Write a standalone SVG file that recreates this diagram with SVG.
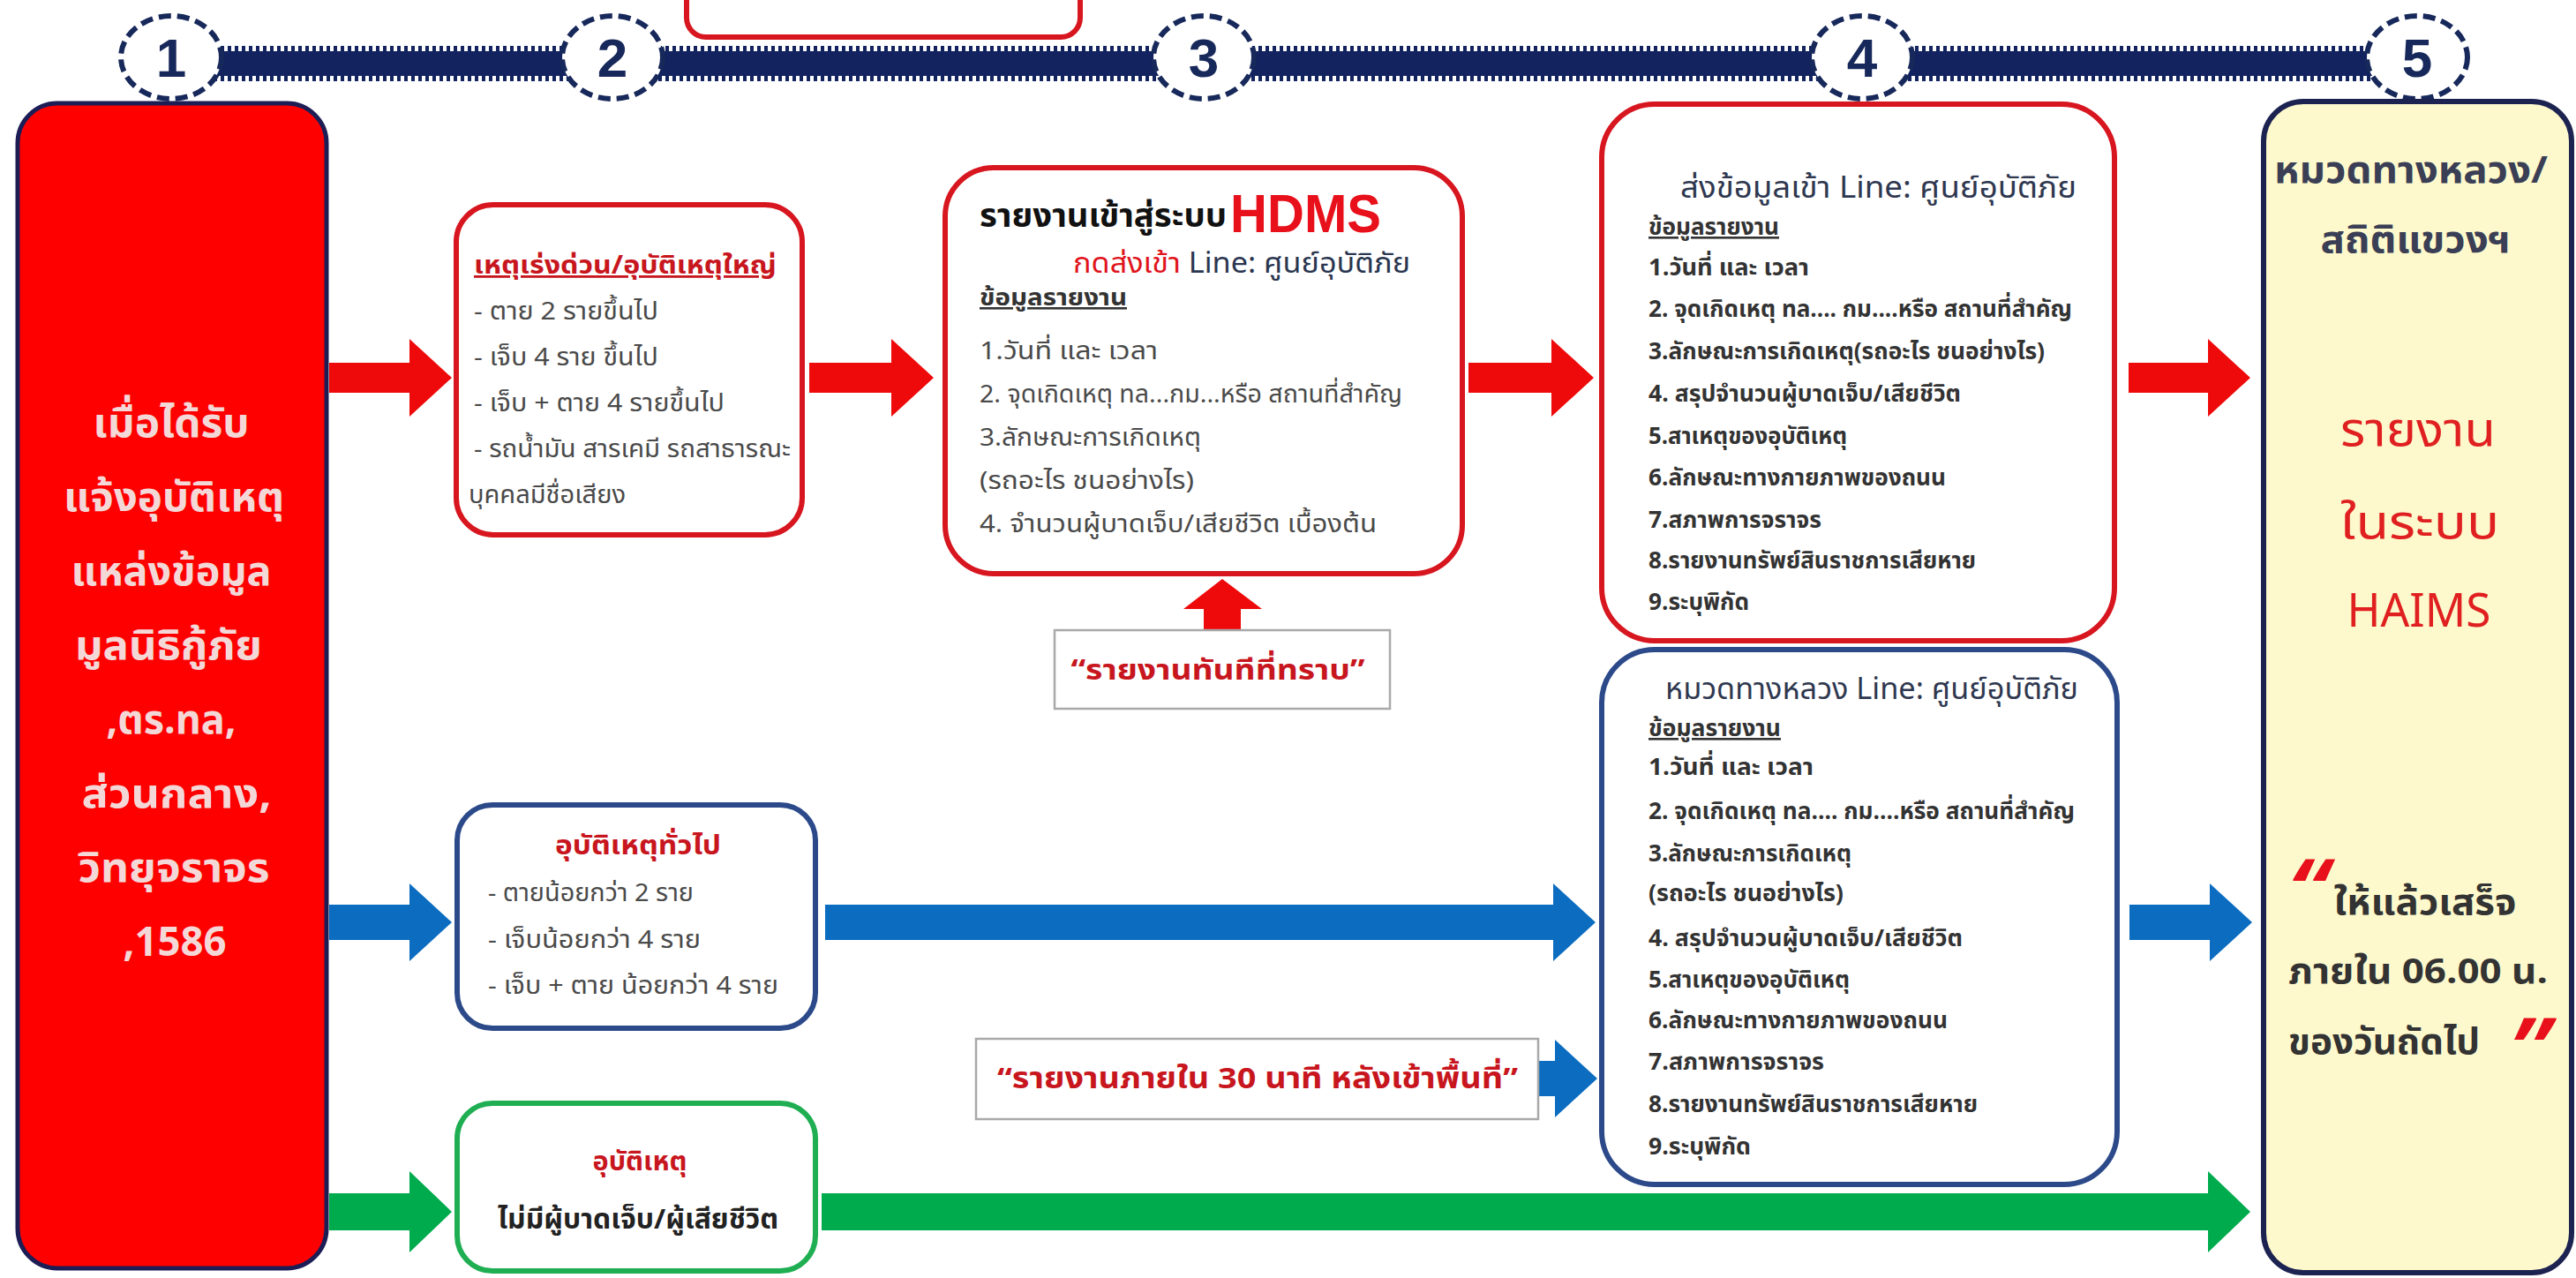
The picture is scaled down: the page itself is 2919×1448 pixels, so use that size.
<svg xmlns="http://www.w3.org/2000/svg" width="2919" height="1448" viewBox="0 0 2919 1448">
<style>
text{font-family:'Noto Sans Thai','Noto Sans','DejaVu Sans',sans-serif;}
.lat{font-family:'Liberation Sans',Arial,sans-serif;font-weight:bold;}
.rbox{fill:#ffffff;stroke:#d7161f;stroke-width:6;}
.bbox{fill:#ffffff;stroke:#2c4a8a;stroke-width:6;}
.gbox{fill:#ffffff;stroke:#1fae52;stroke-width:6;}
.note{fill:#ffffff;stroke:#a9a9a9;stroke-width:2.5;}
.ra{fill:#ee0a0a;}
.ba{fill:#0b6cc0;}
.ga{fill:#00ab4e;}
.circ{fill:#ffffff;stroke:#17285a;stroke-width:6;stroke-dasharray:14 7;}
.num{font-family:'Liberation Sans',Arial,sans-serif;font-weight:bold;font-size:62px;fill:#17285a;text-anchor:middle;}
.big{font-size:46px;fill:#f4d8d8;text-anchor:middle;font-weight:bold;}
.ln{font-size:28px;fill:#4a4a4a;}
.lnb{font-size:27px;fill:#333333;font-weight:bold;}
.hd{font-size:26px;fill:#333333;font-weight:bold;text-decoration:underline;}
.rt{fill:#c8161e;font-weight:bold;}
.ttl{font-size:34px;fill:#2f3850;}
.y5{font-size:40px;fill:#333;font-weight:bold;}
.red5{font-size:54px;fill:#e02020;text-anchor:middle;}
</style>

<g id="timeline">
  <line x1="194" y1="72" x2="2739" y2="72" stroke="#12235f" stroke-width="40" stroke-dasharray="4 4"/>
  <rect x="194" y="58" width="2545" height="28" fill="#12235f"/>
</g>
<g id="top-box"><rect x="778" y="-40" width="446" height="82" rx="22" class="rbox"/></g>
<g id="step1"><ellipse cx="194" cy="65" rx="57" ry="47" class="circ"/><text x="194" y="87" class="num">1</text></g>
<g id="step2"><ellipse cx="694" cy="65" rx="57" ry="47" class="circ"/><text x="694" y="87" class="num">2</text></g>
<g id="step3"><ellipse cx="1364" cy="65" rx="57" ry="47" class="circ"/><text x="1364" y="87" class="num">3</text></g>
<g id="step4"><ellipse cx="2110" cy="65" rx="57" ry="47" class="circ"/><text x="2110" y="87" class="num">4</text></g>
<g id="step5"><ellipse cx="2739" cy="65" rx="57" ry="47" class="circ"/><text x="2739" y="87" class="num">5</text></g>

<g id="connectors">
  <polygon class="ra" points="373,411 464,411 464,384 512,428 464,472 464,445 373,445"/>
  <polygon class="ra" points="917,411 1010,411 1010,384 1058,428 1010,472 1010,445 917,445"/>
  <polygon class="ra" points="1664,411 1758,411 1758,384 1806,428 1758,472 1758,445 1664,445"/>
  <polygon class="ra" points="2412,411 2502,411 2502,384 2550,428 2502,472 2502,445 2412,445"/>
  <polygon class="ra" points="1341,690 1385,656 1430,690 1406,690 1406,715 1364,715 1364,690"/>
  <polygon class="ba" points="373,1025 464,1025 464,1001 512,1045 464,1089 464,1065 373,1065"/>
  <polygon class="ba" points="935,1025 1760,1025 1760,1001 1808,1045 1760,1089 1760,1065 935,1065"/>
  <polygon class="ba" points="2413,1025 2504,1025 2504,1001 2552,1045 2504,1089 2504,1065 2413,1065"/>
  <polygon class="ba" points="1744,1202 1762,1202 1762,1178 1810,1222 1762,1266 1762,1242 1744,1242"/>
  <polygon class="ga" points="373,1352 464,1352 464,1327 512,1373 464,1419 464,1394 373,1394"/>
  <polygon class="ga" points="931,1352 2502,1352 2502,1327 2550,1373 2502,1419 2502,1394 931,1394"/>
</g>

<g id="source">
  <rect x="20" y="117" width="350" height="1320" rx="45" fill="#ff0000" stroke="#1d1d55" stroke-width="5"/>
  <text x="194" y="495" class="big" textLength="177" lengthAdjust="spacingAndGlyphs">เมื่อได้รับ</text>
  <text x="197" y="579" class="big" textLength="250" lengthAdjust="spacingAndGlyphs">แจ้งอุบัติเหตุ</text>
  <text x="194" y="663" class="big" textLength="227" lengthAdjust="spacingAndGlyphs">แหล่งข้อมูล</text>
  <text x="191" y="747" class="big" textLength="212" lengthAdjust="spacingAndGlyphs">มูลนิธิกู้ภัย</text>
  <text x="194" y="831" class="big" textLength="147" lengthAdjust="spacingAndGlyphs">,ตร.ทล,</text>
  <text x="200" y="915" class="big" textLength="215" lengthAdjust="spacingAndGlyphs">ส่วนกลาง,</text>
  <text x="197" y="999" class="big" textLength="217" lengthAdjust="spacingAndGlyphs">วิทยุจราจร</text>
  <text x="198" y="1083" class="big" textLength="117" lengthAdjust="spacingAndGlyphs">,1586</text>
</g>

<g id="urgent">
  <rect x="517" y="232" width="392" height="374" rx="42" class="rbox"/>
  <text x="537" y="310" font-size="28" class="rt" text-decoration="underline" textLength="343" lengthAdjust="spacingAndGlyphs">เหตุเร่งด่วน/อุบัติเหตุใหญ่</text>
  <text x="537" y="362" class="ln" textLength="209" lengthAdjust="spacingAndGlyphs">- ตาย 2 รายขึ้นไป</text>
  <text x="537" y="414" class="ln" textLength="209" lengthAdjust="spacingAndGlyphs">- เจ็บ 4 ราย ขึ้นไป</text>
  <text x="537" y="466" class="ln" textLength="284" lengthAdjust="spacingAndGlyphs">- เจ็บ + ตาย 4 รายขึ้นไป</text>
  <text x="537" y="518" class="ln" textLength="359" lengthAdjust="spacingAndGlyphs">- รถน้ำมัน สารเคมี รถสาธารณะ</text>
  <text x="531" y="570" class="ln" textLength="178" lengthAdjust="spacingAndGlyphs">บุคคลมีชื่อเสียง</text>
</g>

<g id="general">
  <rect x="518" y="912" width="406" height="253" rx="40" class="bbox"/>
  <text x="723" y="968" font-size="30" class="rt" text-anchor="middle" textLength="188" lengthAdjust="spacingAndGlyphs">อุบัติเหตุทั่วไป</text>
  <text x="553" y="1021" class="ln" textLength="233" lengthAdjust="spacingAndGlyphs">- ตายน้อยกว่า 2 ราย</text>
  <text x="553" y="1074" class="ln" textLength="241" lengthAdjust="spacingAndGlyphs">- เจ็บน้อยกว่า  4 ราย</text>
  <text x="553" y="1126" class="ln" textLength="329" lengthAdjust="spacingAndGlyphs">- เจ็บ + ตาย น้อยกว่า 4 ราย</text>
</g>

<g id="noinjury">
  <rect x="518" y="1250" width="406" height="190" rx="40" class="gbox"/>
  <text x="725" y="1326" font-size="30" class="rt" text-anchor="middle" textLength="107" lengthAdjust="spacingAndGlyphs">อุบัติเหตุ</text>
  <text x="723" y="1392" font-size="31" fill="#222" font-weight="bold" text-anchor="middle" textLength="318" lengthAdjust="spacingAndGlyphs">ไม่มีผู้บาดเจ็บ/ผู้เสียชีวิต</text>
</g>

<g id="hdms">
  <rect x="1071" y="190" width="586" height="460" rx="55" class="rbox"/>
  <text x="1110" y="257" font-size="38" font-weight="bold" fill="#111" textLength="280" lengthAdjust="spacingAndGlyphs">รายงานเข้าสู่ระบบ</text>
  <text x="1394" y="263" font-size="62" class="lat" fill="#e8101a" textLength="171" lengthAdjust="spacingAndGlyphs">HDMS</text>
  <text x="1216" y="309" font-size="32" textLength="382" lengthAdjust="spacingAndGlyphs"><tspan fill="#e0141c">กดส่งเข้า</tspan><tspan fill="#2a3650"> Line: ศูนย์อุบัติภัย</tspan></text>
  <text x="1110" y="346" class="hd" textLength="167" lengthAdjust="spacingAndGlyphs">ข้อมูลรายงาน</text>
  <text x="1110" y="407" class="ln" textLength="202" lengthAdjust="spacingAndGlyphs">1.วันที่ และ เวลา</text>
  <text x="1110" y="456" class="ln" textLength="479" lengthAdjust="spacingAndGlyphs">2. จุดเกิดเหตุ ทล...กม...หรือ สถานที่สำคัญ</text>
  <text x="1110" y="505" class="ln" textLength="251" lengthAdjust="spacingAndGlyphs">3.ลักษณะการเกิดเหตุ</text>
  <text x="1110" y="554" class="ln" textLength="243" lengthAdjust="spacingAndGlyphs">(รถอะไร ชนอย่างไร)</text>
  <text x="1110" y="603" class="ln" textLength="450" lengthAdjust="spacingAndGlyphs">4. จำนวนผู้บาดเจ็บ/เสียชีวิต เบื้องต้น</text>
</g>

<g id="note-immediate">
  <rect x="1195" y="714" width="380" height="89" class="note"/>
  <text x="1380" y="770" font-size="32" class="rt" text-anchor="middle" textLength="333" lengthAdjust="spacingAndGlyphs">“รายงานทันทีที่ทราบ”</text>
</g>

<g id="note-30min">
  <rect x="1106" y="1177" width="637" height="91" class="note"/>
  <text x="1130" y="1233" font-size="33" class="rt" textLength="590" lengthAdjust="spacingAndGlyphs">“รายงานภายใน 30 นาที หลังเข้าพื้นที่”</text>
</g>

<g id="line-center">
  <rect x="1815" y="118" width="581" height="608" rx="60" class="rbox"/>
  <text x="1904" y="224" class="ttl" textLength="449" lengthAdjust="spacingAndGlyphs">ส่งข้อมูลเข้า Line: ศูนย์อุบัติภัย</text>
  <text x="1868" y="266" class="hd" font-size="24" textLength="148" lengthAdjust="spacingAndGlyphs">ข้อมูลรายงาน</text>
  <text x="1868" y="312" class="lnb" textLength="182" lengthAdjust="spacingAndGlyphs">1.วันที่ และ เวลา</text>
  <text x="1868" y="359" class="lnb" textLength="480" lengthAdjust="spacingAndGlyphs">2. จุดเกิดเหตุ ทล.... กม....หรือ สถานที่สำคัญ</text>
  <text x="1868" y="407" class="lnb" textLength="449" lengthAdjust="spacingAndGlyphs">3.ลักษณะการเกิดเหตุ(รถอะไร ชนอย่างไร)</text>
  <text x="1868" y="455" class="lnb" textLength="354" lengthAdjust="spacingAndGlyphs">4. สรุปจำนวนผู้บาดเจ็บ/เสียชีวิต</text>
  <text x="1868" y="503" class="lnb" textLength="225" lengthAdjust="spacingAndGlyphs">5.สาเหตุของอุบัติเหตุ</text>
  <text x="1868" y="550" class="lnb" textLength="337" lengthAdjust="spacingAndGlyphs">6.ลักษณะทางกายภาพของถนน</text>
  <text x="1868" y="598" class="lnb" textLength="196" lengthAdjust="spacingAndGlyphs">7.สภาพการจราจร</text>
  <text x="1868" y="644" class="lnb" textLength="371" lengthAdjust="spacingAndGlyphs">8.รายงานทรัพย์สินราชการเสียหาย</text>
  <text x="1868" y="691" class="lnb" textLength="114" lengthAdjust="spacingAndGlyphs">9.ระบุพิกัด</text>
</g>

<g id="highway">
  <rect x="1815" y="736" width="584" height="606" rx="60" class="bbox"/>
  <text x="1887" y="792" class="ttl" textLength="468" lengthAdjust="spacingAndGlyphs">หมวดทางหลวง  Line: ศูนย์อุบัติภัย</text>
  <text x="1868" y="834" class="hd" font-size="24" textLength="150" lengthAdjust="spacingAndGlyphs">ข้อมูลรายงาน</text>
  <text x="1868" y="878" class="lnb" textLength="187" lengthAdjust="spacingAndGlyphs">1.วันที่ และ เวลา</text>
  <text x="1868" y="928" class="lnb" textLength="483" lengthAdjust="spacingAndGlyphs">2. จุดเกิดเหตุ ทล.... กม....หรือ สถานที่สำคัญ</text>
  <text x="1868" y="976" class="lnb" textLength="230" lengthAdjust="spacingAndGlyphs">3.ลักษณะการเกิดเหตุ</text>
  <text x="1868" y="1021" class="lnb" textLength="221" lengthAdjust="spacingAndGlyphs">(รถอะไร ชนอย่างไร)</text>
  <text x="1868" y="1072" class="lnb" textLength="356" lengthAdjust="spacingAndGlyphs">4. สรุปจำนวนผู้บาดเจ็บ/เสียชีวิต</text>
  <text x="1868" y="1119" class="lnb" textLength="228" lengthAdjust="spacingAndGlyphs">5.สาเหตุของอุบัติเหตุ</text>
  <text x="1868" y="1165" class="lnb" textLength="339" lengthAdjust="spacingAndGlyphs">6.ลักษณะทางกายภาพของถนน</text>
  <text x="1868" y="1212" class="lnb" textLength="199" lengthAdjust="spacingAndGlyphs">7.สภาพการจราจร</text>
  <text x="1868" y="1260" class="lnb" textLength="373" lengthAdjust="spacingAndGlyphs">8.รายงานทรัพย์สินราชการเสียหาย</text>
  <text x="1868" y="1308" class="lnb" textLength="116" lengthAdjust="spacingAndGlyphs">9.ระบุพิกัด</text>
</g>

<g id="haims">
  <rect x="2565" y="115" width="349" height="1327" rx="45" fill="#fdf9cc" stroke="#1c2350" stroke-width="6"/>
  <text x="2732" y="207" font-size="42" fill="#3b3f55" font-weight="bold" text-anchor="middle" textLength="310" lengthAdjust="spacingAndGlyphs">หมวดทางหลวง/</text>
  <text x="2737" y="286" font-size="42" fill="#3b3f55" font-weight="bold" text-anchor="middle" textLength="215" lengthAdjust="spacingAndGlyphs">สถิติแขวงฯ</text>
  <text x="2740" y="505" class="red5" textLength="176" lengthAdjust="spacingAndGlyphs">รายงาน</text>
  <text x="2742" y="610" class="red5" textLength="180" lengthAdjust="spacingAndGlyphs">ในระบบ</text>
  <text x="2741" y="710" font-size="52" fill="#e02020" text-anchor="middle" font-family="'Liberation Sans',Arial,sans-serif" textLength="163" lengthAdjust="spacingAndGlyphs">HAIMS</text>
  <text x="2585" y="1045" font-size="100" fill="#e8101a" font-weight="bold" font-style="italic" font-family="'Liberation Serif',serif">“</text>
  <text x="2748" y="1036" class="y5" text-anchor="middle" textLength="207" lengthAdjust="spacingAndGlyphs">ให้แล้วเสร็จ</text>
  <text x="2740" y="1114" class="y5" text-anchor="middle" textLength="294" lengthAdjust="spacingAndGlyphs">ภายใน 06.00 น.</text>
  <text x="2593" y="1194" class="y5" textLength="217" lengthAdjust="spacingAndGlyphs">ของวันถัดไป</text>
  <text x="2836" y="1225" font-size="100" fill="#e8101a" font-weight="bold" font-style="italic" font-family="'Liberation Serif',serif">”</text>
</g>
</svg>
